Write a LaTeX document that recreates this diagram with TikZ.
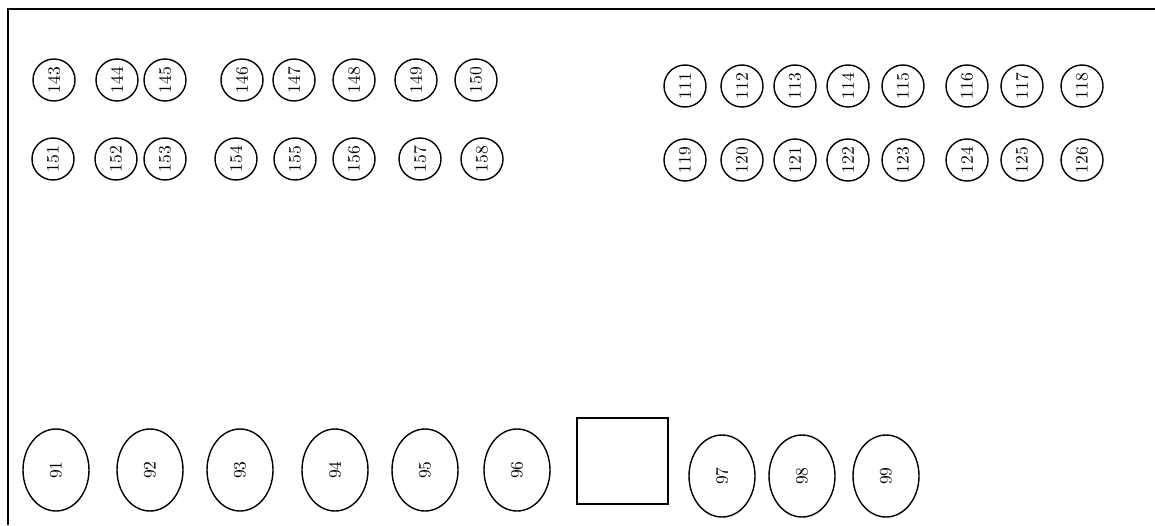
\documentclass[tikz,border=0pt]{standalone}
\usetikzlibrary{shapes.geometric}

\tikzset{
  seat/.style={draw, circle, line width=0.8pt, minimum size=0.84cm, inner sep=0pt, rotate=90},
  bigseat/.style={draw, ellipse, line width=0.8pt, minimum width=1.64cm, minimum height=1.32cm, inner sep=0pt, rotate=90},
}

\begin{document}
\begin{tikzpicture}

            \useasboundingbox (0,0) rectangle (23.1,10.5);

            \draw[line width=1.4pt] (0.16,0) -- (0.16,10.32) -- (23.1,10.32);

            \node[seat] (s143) at (1.08,8.9) {143};
            \node[seat] (s144) at (2.34,8.9) {144};
            \node[seat] (s145) at (3.30,8.9) {145};
            \node[seat] (s146) at (4.84,8.9) {146};
            \node[seat] (s147) at (5.88,8.9) {147};
            \node[seat] (s148) at (7.08,8.9) {148};
            \node[seat] (s149) at (8.32,8.9) {149};
            \node[seat] (s150) at (9.52,8.9) {150};

            \node[seat] (s151) at (1.06,7.32) {151};
            \node[seat] (s152) at (2.32,7.32) {152};
            \node[seat] (s153) at (3.30,7.32) {153};
            \node[seat] (s154) at (4.72,7.32) {154};
            \node[seat] (s155) at (5.90,7.32) {155};
            \node[seat] (s156) at (7.08,7.32) {156};
            \node[seat] (s157) at (8.40,7.32) {157};
            \node[seat] (s158) at (9.64,7.32) {158};

            \node[seat] (s111) at (13.70,8.78) {111};
            \node[seat] (s112) at (14.84,8.78) {112};
            \node[seat] (s113) at (15.90,8.78) {113};
            \node[seat] (s114) at (16.96,8.78) {114};
            \node[seat] (s115) at (18.06,8.78) {115};
            \node[seat] (s116) at (19.34,8.78) {116};
            \node[seat] (s117) at (20.44,8.78) {117};
            \node[seat] (s118) at (21.64,8.78) {118};

            \node[seat] (s119) at (13.70,7.3) {119};
            \node[seat] (s120) at (14.84,7.3) {120};
            \node[seat] (s121) at (15.90,7.3) {121};
            \node[seat] (s122) at (16.96,7.3) {122};
            \node[seat] (s123) at (18.06,7.3) {123};
            \node[seat] (s124) at (19.34,7.3) {124};
            \node[seat] (s125) at (20.44,7.3) {125};
            \node[seat] (s126) at (21.64,7.3) {126};

            \node[bigseat] (s91) at (1.12,1.1) {91};
            \node[bigseat] (s92) at (3.00,1.1) {92};
            \node[bigseat] (s93) at (4.80,1.1) {93};
            \node[bigseat] (s94) at (6.70,1.1) {94};
            \node[bigseat] (s95) at (8.50,1.1) {95};
            \node[bigseat] (s96) at (10.34,1.1) {96};

            \node[draw, line width=0.8pt, minimum width=1.82cm, minimum height=1.72cm] (box) at (12.45,1.28) {};

            \node[bigseat] (s97) at (14.44,0.98) {97};
            \node[bigseat] (s98) at (16.04,0.98) {98};
            \node[bigseat] (s99) at (17.72,0.98) {99};

        \end{tikzpicture}
\end{document}
